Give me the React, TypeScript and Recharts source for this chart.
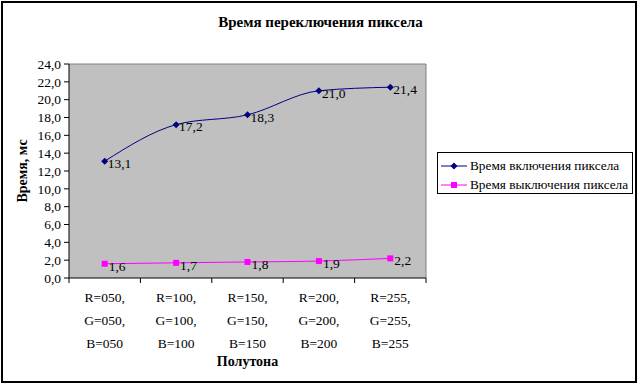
import {
  LineChart,
  Line,
  XAxis,
  YAxis,
  CartesianGrid,
  Legend,
  LabelList,
} from "recharts";

const categories = [
  "R=050, G=050, B=050",
  "R=100, G=100, B=100",
  "R=150, G=150, B=150",
  "R=200, G=200, B=200",
  "R=255, G=255, B=255",
];
const onTimes = [13.1, 17.2, 18.3, 21.0, 21.4];
const offTimes = [1.6, 1.7, 1.8, 1.9, 2.2];
const yTicks = [0, 2, 4, 6, 8, 10, 12, 14, 16, 18, 20, 22, 24];

const seriesNames = ["Время включения пиксела", "Время выключения пиксела"];
const seriesColors = ["#000080", "#FF00FF"];

const data = categories.map((c, i) => ({ name: c, on: onTimes[i], off: offTimes[i] }));

const FONT = '"Liberation Serif", "Times New Roman", serif';
const fmt = (v: any) => Number(v).toFixed(1).replace(".", ",");

const Diamond = (props: any) => {
  const { cx, cy, fill } = props;
  if (cx == null || cy == null) return null;
  const r = 3.5;
  return (
    <path
      d={`M${cx},${cy - r}L${cx + r},${cy}L${cx},${cy + r}L${cx - r},${cy}Z`}
      fill={fill}
    />
  );
};

const Square = (props: any) => {
  const { cx, cy, fill } = props;
  if (cx == null || cy == null) return null;
  return <rect x={cx - 3} y={cy - 3} width={6} height={6} fill={fill} />;
};

const CategoryTick = (props: any) => {
  const { x, y, payload, index, visibleTicksCount } = props;
  const half = payload.offset || 35.7;
  const lines = String(payload.value).split(" ");
  const last = index === (visibleTicksCount || categories.length) - 1;
  return (
    <g>
      <line x1={x - half} x2={x - half} y1={y} y2={y + 5} stroke="#000" />
      {last && <line x1={x + half} x2={x + half} y1={y} y2={y + 5} stroke="#000" />}
      {lines.map((t, i) => (
        <text
          key={i}
          x={x}
          y={y + 19 + i * 23}
          textAnchor="middle"
          dominantBaseline="central"
          fontSize={13.5}
          fontFamily={FONT}
          fill="#000"
        >
          {t}
        </text>
      ))}
    </g>
  );
};

const LegendBox = () => (
  <div
    style={{
      width: 196,
      height: 42,
      boxSizing: "border-box",
      border: "1px solid #000",
      background: "#fff",
      padding: "3px 0 0 3px",
      fontFamily: FONT,
      fontSize: 13.3,
      lineHeight: "19px",
      color: "#000",
    }}
  >
    {seriesNames.map((n, i) => (
      <div key={n} style={{ display: "flex", alignItems: "center", whiteSpace: "nowrap" }}>
        <svg width={28} height={10} style={{ marginRight: 1 }}>
          <line x1={0} x2={26} y1={5} y2={5} stroke={seriesColors[i]} />
          {i === 0 ? (
            <Diamond cx={13} cy={5} fill={seriesColors[i]} />
          ) : (
            <Square cx={13} cy={5} fill={seriesColors[i]} />
          )}
        </svg>
        <span>{n}</span>
      </div>
    ))}
  </div>
);

export default function App() {
  return (
    <div style={{ position: "absolute", left: 0, top: 0, width: 641, height: 388, background: "#fff" }}>
      <div
        style={{
          position: "absolute",
          left: 1,
          top: 1,
          width: 636,
          height: 382,
          boxSizing: "border-box",
          border: "2px solid #000",
        }}
      />
      <div
        style={{
          position: "absolute",
          left: 0,
          top: 14,
          width: 641,
          textAlign: "center",
          fontFamily: FONT,
          fontWeight: "bold",
          fontSize: 15,
          lineHeight: "16px",
        }}
      >
        Время переключения пиксела
      </div>
      <div style={{ position: "absolute", left: 0, top: 0 }}>
        <LineChart
          width={641}
          height={388}
          data={data}
          margin={{ top: 64, right: 215, bottom: 20, left: 19 }}
        >
          <CartesianGrid
            fill="#C0C0C0"
            stroke="#808080"
            horizontalCoordinatesGenerator={({ offset }: any) => [offset.top]}
            verticalCoordinatesGenerator={({ offset }: any) => [offset.left + offset.width]}
          />
          <XAxis
            dataKey="name"
            scale="band"
            height={90}
            tickSize={0}
            tickMargin={0}
            tickLine={false}
            interval={0}
            axisLine={{ stroke: "#000" }}
            tick={<CategoryTick />}
            label={({ viewBox }: any) => (
              <text
                x={viewBox.x + viewBox.width / 2}
                y={viewBox.y + 83}
                textAnchor="middle"
                dominantBaseline="central"
                fontFamily={FONT}
                fontWeight="bold"
                fontSize={14}
                fill="#000"
              >
                Полутона
              </text>
            )}
          />
          <YAxis
            width={50}
            domain={[0, 24]}
            ticks={yTicks}
            interval={0}
            tickSize={5}
            tickMargin={3}
            tickFormatter={fmt}
            axisLine={{ stroke: "#000" }}
            tickLine={{ stroke: "#000" }}
            tick={{ fill: "#000", fontSize: 13.5, fontFamily: FONT }}
            label={({ viewBox }: any) => {
              const cx = viewBox.x + 3;
              const cy = viewBox.y + viewBox.height / 2;
              return (
                <text
                  x={cx}
                  y={cy}
                  transform={`rotate(-90 ${cx} ${cy})`}
                  textAnchor="middle"
                  dominantBaseline="central"
                  fontFamily={FONT}
                  fontWeight="bold"
                  fontSize={14}
                  fill="#000"
                >
                  Время, мс
                </text>
              );
            }}
          />
          <Legend
            layout="vertical"
            align="center"
            verticalAlign="middle"
            wrapperStyle={{ left: 437, top: 152, width: 196, height: 42 }}
            content={() => <LegendBox />}
          />
          <Line
            type="monotone"
            dataKey="on"
            name={seriesNames[0]}
            stroke={seriesColors[0]}
            strokeWidth={1}
            dot={<Diamond fill={seriesColors[0]} />}
            activeDot={false}
            isAnimationActive={false}
          >
            <LabelList
              dataKey="on"
              position="right"
              offset={3}
              dy={2}
              formatter={fmt}
              fill="#000"
              fontSize={13.5}
              fontFamily={FONT}
            />
          </Line>
          <Line
            type="monotone"
            dataKey="off"
            name={seriesNames[1]}
            stroke={seriesColors[1]}
            strokeWidth={1}
            dot={<Square fill={seriesColors[1]} />}
            activeDot={false}
            isAnimationActive={false}
          >
            <LabelList
              dataKey="off"
              position="right"
              offset={4}
              dy={2}
              formatter={fmt}
              fill="#000"
              fontSize={13.5}
              fontFamily={FONT}
            />
          </Line>
        </LineChart>
      </div>
    </div>
  );
}
